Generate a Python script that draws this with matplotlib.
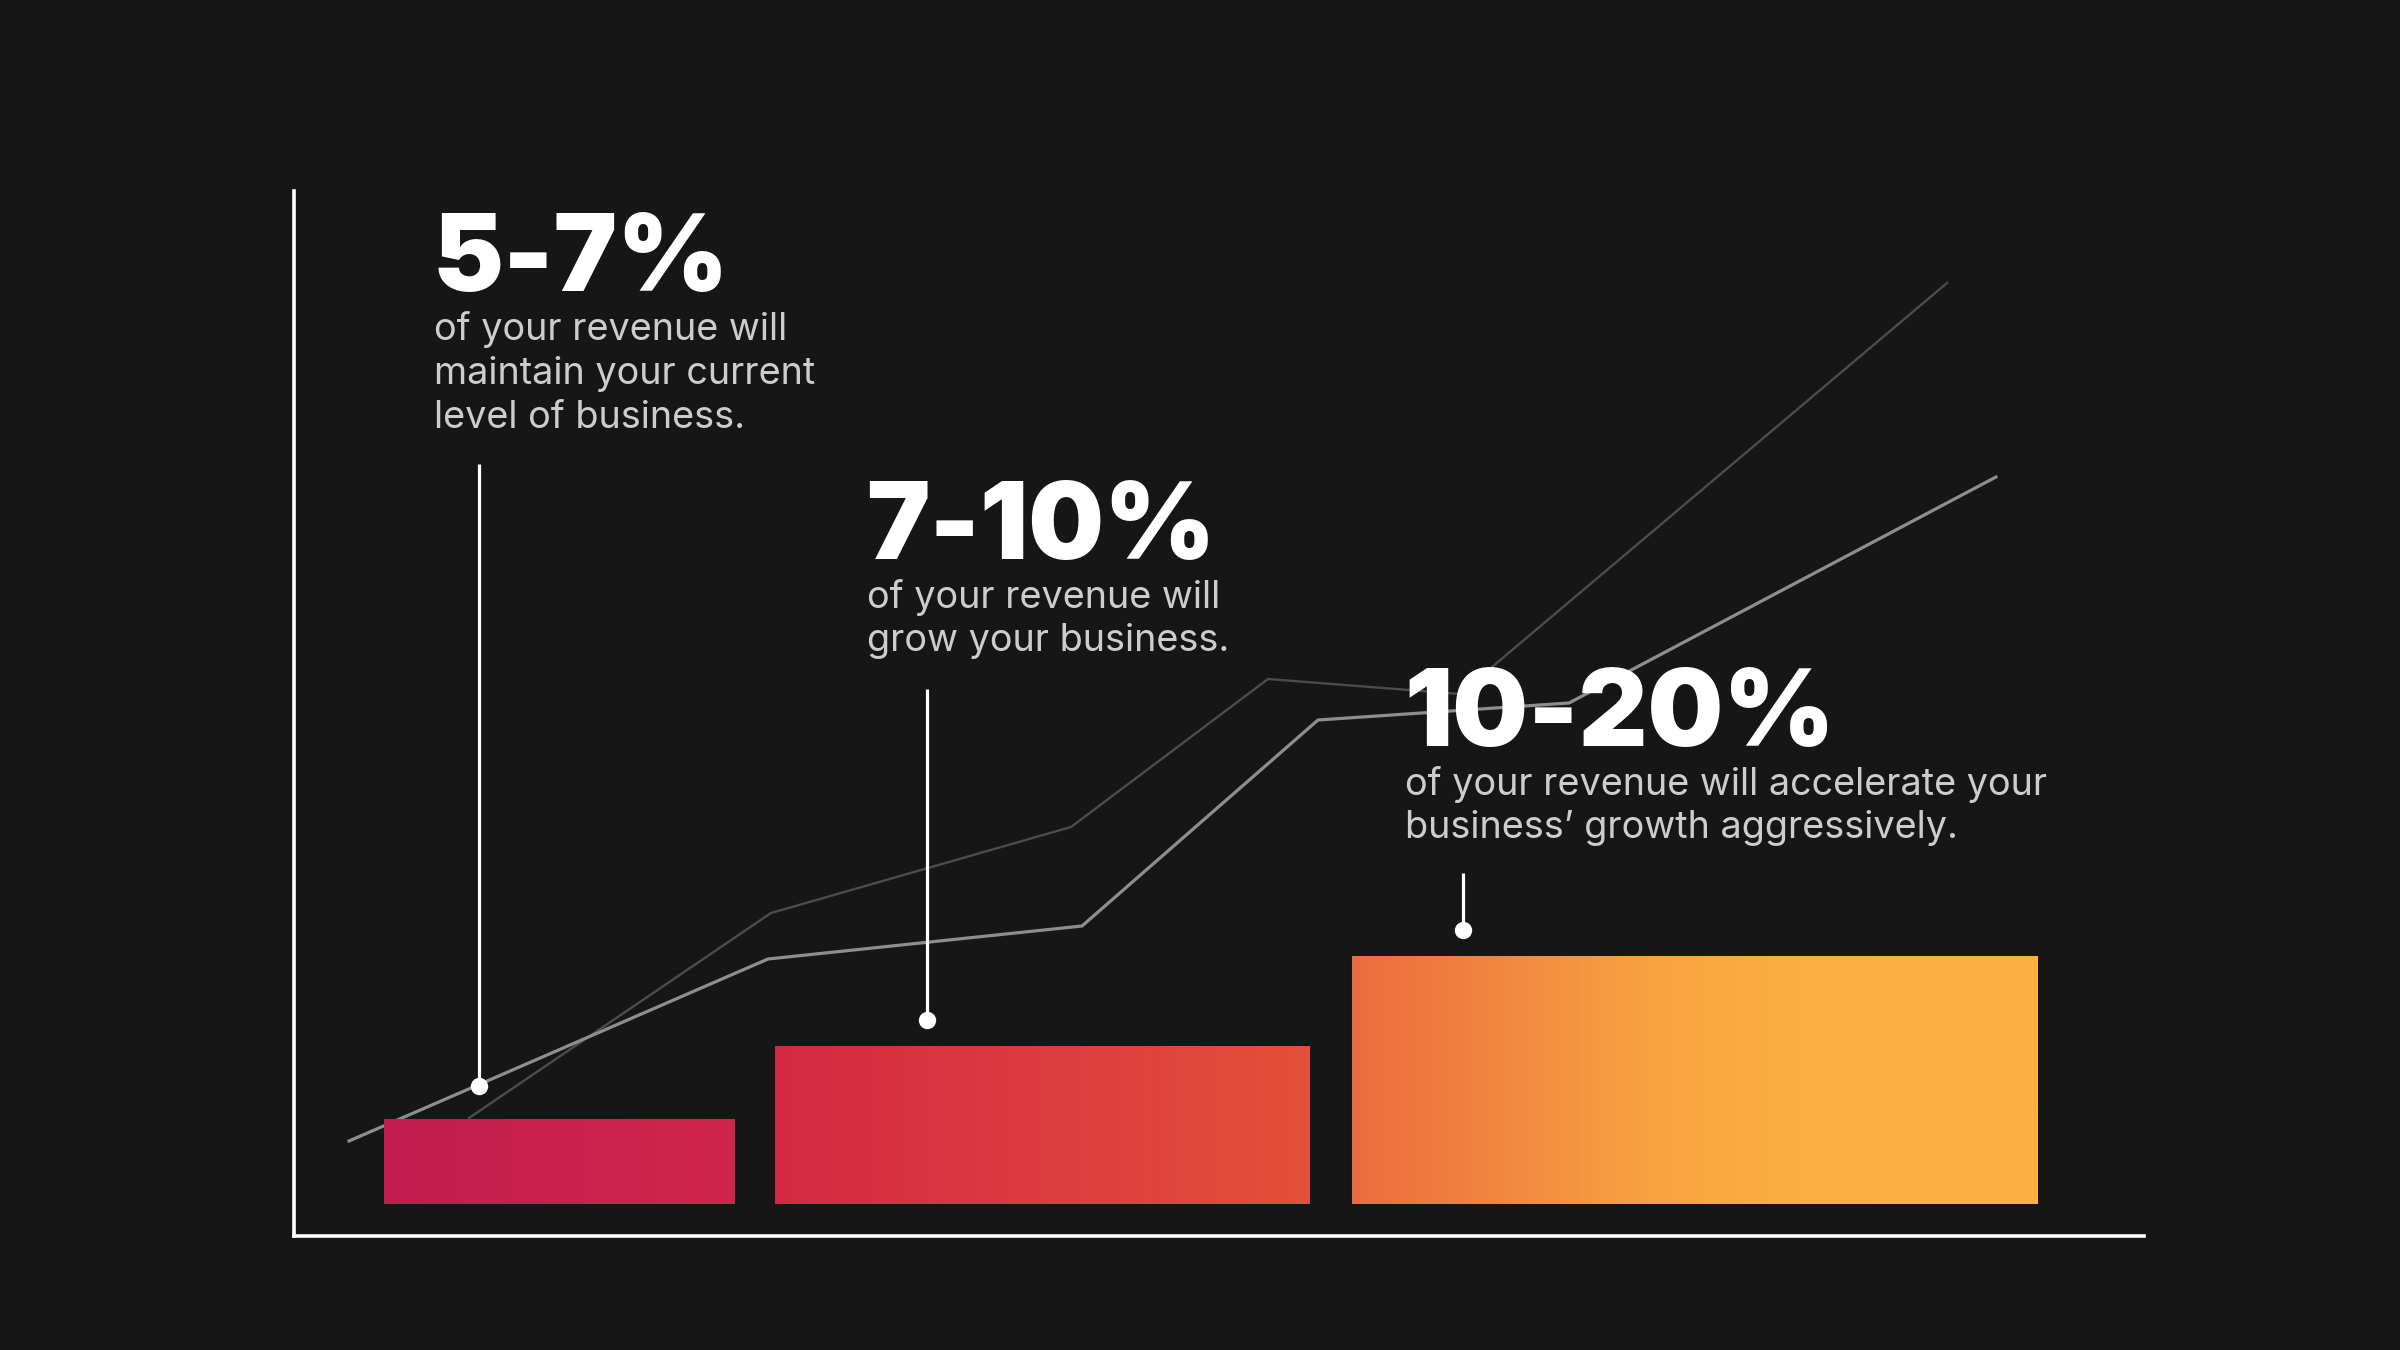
import numpy as np
import matplotlib
matplotlib.use("Agg")
import matplotlib.pyplot as plt
from matplotlib.colors import LinearSegmentedColormap, Normalize

# ---------------- data ----------------
categories = ["5-7%", "7-10%", "10-20%"]
descriptions = [
    ["of your revenue will", "maintain your current", "level of business."],
    ["of your revenue will", "grow your business."],
    ["of your revenue will accelerate your", "business\u2019 growth aggressively."],
]
bar_left = [90, 481, 1058]
bar_widths = [351, 535, 686]
bar_heights = [85, 158, 248]
bar_base = 32

light_x = [55, 474, 788, 1024, 1275, 1702]
light_y = [95, 277, 310, 516, 533, 759]
dark_x = [175, 477, 777, 974, 1166, 1653]
dark_y = [118, 323, 409, 557, 542, 953]

callout_x = [185, 633, 1169]
callout_top = [772, 547, 363]
callout_dot = [150, 216, 306]

label_x = [139, 572, 1110]
label_base = [945, 677, 490]
desc_base = [[896, 852, 808], [628, 585], [441, 398]]

# ---------------- figure ----------------
W, H = 2400, 1350
BG = "#161616"
fig = plt.figure(figsize=(24, 13.5), dpi=100, facecolor=BG)
ax = fig.add_axes([294 / W, (H - 1236) / H, (2144 - 294) / W, (1236 - 191) / H])
ax.set_facecolor("none")

for s in ["top", "right"]:
    ax.spines[s].set_visible(False)
for s in ["left", "bottom"]:
    ax.spines[s].set_color("white")
    ax.spines[s].set_linewidth(2.6)
ax.set_xticks([])
ax.set_yticks([])

# trend lines (behind bars)
ax.plot(dark_x, dark_y, color="#4c4c4c", lw=1.7, zorder=2, solid_joinstyle="miter")
ax.plot(light_x, light_y, color="#8e8e8e", lw=2.3, zorder=2, solid_joinstyle="miter")

# gradient bars
cmap = LinearSegmentedColormap.from_list(
    "grad",
    [(0.0, "#C21D51"), (0.212, "#D0264A"), (0.237, "#D42944"), (0.56, "#E4503A"),
     (0.585, "#EC6C3F"), (0.765, "#F8A241"), (0.856, "#FBAF42"), (1.0, "#FCB243")],
)
x_start = bar_left[0]
x_end = bar_left[-1] + bar_widths[-1]
norm = Normalize(vmin=x_start, vmax=x_end)
bars = ax.bar(bar_left, bar_heights, width=bar_widths, bottom=bar_base,
              align="edge", color="#D0264A", zorder=3, linewidth=0)
for b, x0, w, h in zip(bars, bar_left, bar_widths, bar_heights):
    grad = np.linspace(x0, x0 + w, 400)[None, :]
    im = ax.imshow(grad, extent=[x0, x0 + w, bar_base, bar_base + h], cmap=cmap,
                   norm=norm, aspect="auto", zorder=3.5, interpolation="bicubic")
    im.set_clip_path(b)

# callouts
for cx, ct, cd in zip(callout_x, callout_top, callout_dot):
    ax.plot([cx, cx], [ct, cd], color="white", lw=2.3, zorder=4, solid_capstyle="butt")
    ax.plot([cx], [cd], "o", color="white", ms=12.5, zorder=5, mec="none")

ax.set_xlim(0, 1850)
ax.set_ylim(0, 1045)

# ---------------- text ----------------
renderer = fig.canvas.get_renderer()

def fit_size(txt, target_px, base, **kw):
    t = ax.text(0, 0, txt, fontsize=base, **kw)
    w = t.get_window_extent(renderer).width
    t.remove()
    return base * target_px / w

big_kw = dict(family=["Inter", "DejaVu Sans"], fontweight="black")
sub_kw = dict(family=["Inter", "DejaVu Sans"], fontweight="normal")

big_targets = [297, 347, 432]
big_sizes = [fit_size(c, t, 80, **big_kw) for c, t in zip(categories, big_targets)]
big_size = float(np.mean(big_sizes))
sub_size = fit_size(descriptions[2][0], 644, 22, **sub_kw)

for i, cat in enumerate(categories):
    ax.text(label_x[i], label_base[i], cat, color="white", fontsize=big_size,
            ha="left", va="baseline", zorder=6, **big_kw)
    for line, yb in zip(descriptions[i], desc_base[i]):
        ax.text(label_x[i] + 1, yb, line, color="#CDCDCD", fontsize=sub_size,
                ha="left", va="baseline", zorder=6, **sub_kw)

fig.savefig("out.png", dpi=100, facecolor=BG)
